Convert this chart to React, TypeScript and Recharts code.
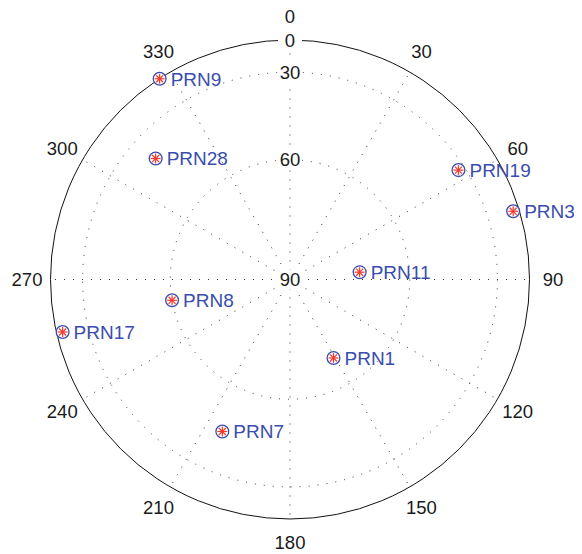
import React from 'react';
import { ScatterChart, Scatter, XAxis, YAxis, ReferenceLine, ReferenceDot } from 'recharts';

// satellite sky positions (degrees)
const prnNames = ['PRN9', 'PRN28', 'PRN19', 'PRN3', 'PRN11', 'PRN8', 'PRN17', 'PRN1', 'PRN7'];
const azimuths = [327, 312, 57, 73, 84, 260, 257, 151, 204];
const elevations = [2, 41, 33, 13, 73, 60, 13, 68, 46];

const azimuthTicks = [0, 30, 60, 90, 120, 150, 180, 210, 240, 270, 300, 330];
const elevationRings = [30, 60];
const elevationLabels = [0, 30, 60, 90];

const W = 566;
const H = 554;
const PLOT = 479; // square plot area
const R = PLOT / 2;
const LEFT = 42.5;
const TOP = 40;
const FONT = '"Liberation Sans", Arial, Helvetica, sans-serif';
const BLUE = '#3a4dae';
const RED = '#ee3b2c';

const rad = (d: number) => (d * Math.PI) / 180;
// azimuth clockwise from north, radius = cos(elevation)
const project = (az: number, el: number) => ({
  x: Math.cos(rad(el)) * Math.sin(rad(az)),
  y: Math.cos(rad(el)) * Math.cos(rad(az)),
});

const satData = prnNames.map((name, i) => ({ name, ...project(azimuths[i], elevations[i]) }));

const SatMarker = (props: any) => {
  const { cx, cy, payload } = props;
  const arms = [0, 45, 90, 135];
  return (
    <g>
      <circle cx={cx} cy={cy} r={6.4} fill="#fff" stroke={BLUE} strokeWidth={1.3} />
      {arms.map((a) => {
        const dx = 5 * Math.cos(rad(a));
        const dy = 5 * Math.sin(rad(a));
        return <line key={a} x1={cx - dx} y1={cy - dy} x2={cx + dx} y2={cy + dy} stroke={RED} strokeWidth={1.2} />;
      })}
      <text x={cx + 11} y={cy} dy="0.36em" fill={BLUE} fontSize={19} fontFamily={FONT}>
        {payload.name}
      </text>
    </g>
  );
};

const TickText = ({ cx, cy, text, boxed }: any) => (
  <g>
    {boxed && <rect x={cx - 12} y={cy - 10} width={24} height={20} fill="#fff" />}
    <text x={cx} y={cy} dy="0.36em" textAnchor="middle" fill="#1a1a1a" fontSize={18.5} fontFamily={FONT}>
      {text}
    </text>
  </g>
);

export default function App() {
  return (
    <div style={{ marginTop: -8 }}>
      <ScatterChart
        width={W}
        height={H}
        margin={{ top: TOP, left: LEFT, right: W - LEFT - PLOT, bottom: H - TOP - PLOT }}
        style={{ overflow: 'visible' }}
      >
        <XAxis type="number" dataKey="x" domain={[-1, 1]} hide />
        <YAxis type="number" dataKey="y" domain={[-1, 1]} hide />

        {azimuthTicks.map((az) => {
          const p = project(az, 0);
          return (
            <ReferenceLine
              key={'spoke' + az}
              segment={[{ x: 0, y: 0 }, p]}
              stroke="#333"
              strokeWidth={1}
              strokeDasharray="1 8"
              ifOverflow="visible"
            />
          );
        })}

        {elevationRings.map((el) => (
          <ReferenceDot
            key={'ring' + el}
            x={0}
            y={0}
            r={R * Math.cos(rad(el))}
            fill="none"
            stroke="#333"
            strokeWidth={1}
            strokeDasharray="1 8"
            ifOverflow="visible"
          />
        ))}
        <ReferenceDot x={0} y={0} r={R} fill="none" stroke="#111" strokeWidth={1} ifOverflow="visible" />

        {azimuthTicks.map((az) => {
          const p = project(az, 0);
          return (
            <ReferenceDot
              key={'azl' + az}
              x={p.x * 1.098}
              y={p.y * 1.098}
              r={0}
              ifOverflow="visible"
              shape={(props: any) => <TickText cx={props.cx} cy={props.cy} text={String(az)} />}
            />
          );
        })}

        {elevationLabels.map((el) => (
          <ReferenceDot
            key={'ell' + el}
            x={0}
            y={Math.cos(rad(el))}
            r={0}
            ifOverflow="visible"
            shape={(props: any) => <TickText cx={props.cx} cy={props.cy} text={String(el)} boxed />}
          />
        ))}

        <Scatter data={satData} shape={<SatMarker />} isAnimationActive={false} />
      </ScatterChart>
    </div>
  );
}
